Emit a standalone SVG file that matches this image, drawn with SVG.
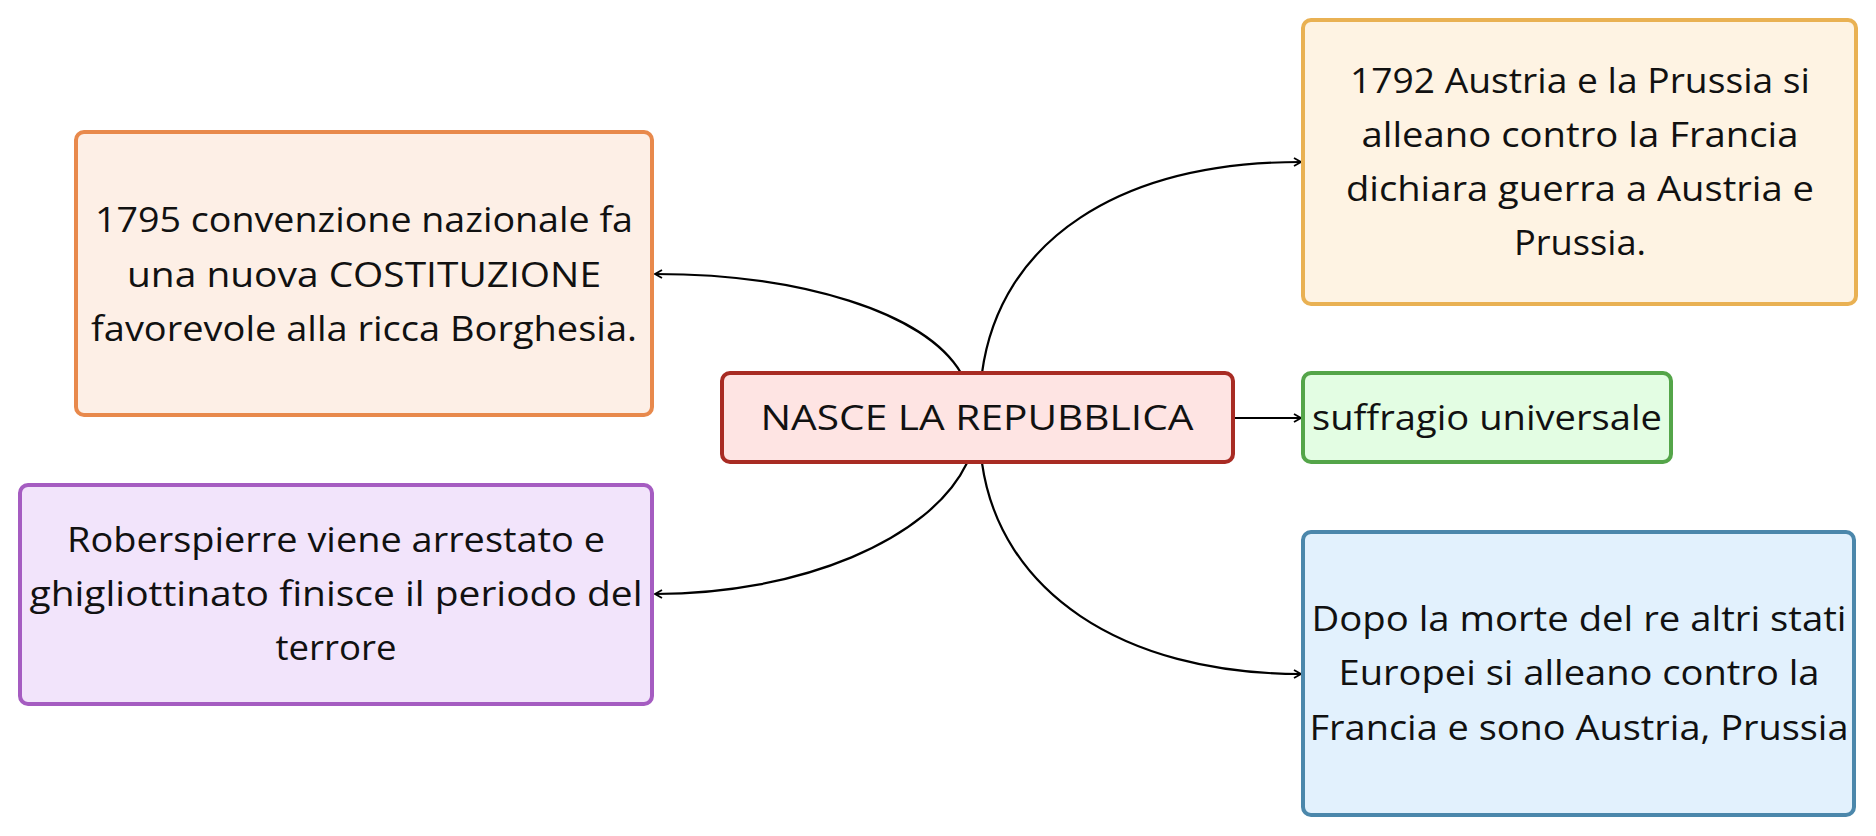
<svg xmlns="http://www.w3.org/2000/svg" width="1876" height="836" viewBox="0 0 1876 836">
<defs>
<style>
.box{stroke-width:4}
.t{font-family:"Open Sans","Liberation Sans",sans-serif;font-size:34px;fill:#111;text-anchor:middle}
.c{fill:none;stroke:#000;stroke-width:2.2}
</style>
<marker id="ah" markerWidth="10" markerHeight="10" refX="8" refY="5" orient="auto" markerUnits="userSpaceOnUse">
<path d="M1,1 L8,5 L1,9" fill="none" stroke="#000" stroke-width="1.8"/>
</marker>
</defs>
<rect width="1876" height="836" fill="#fff"/>
<g id="connectors">
<path class="c" d="M961,373 C925,312 800,274 655,274" marker-end="url(#ah)"/>
<path class="c" d="M982,373 C1000,240 1120,162 1301,162" marker-end="url(#ah)"/>
<path class="c" d="M967,463 C930,540 800,594 655,594" marker-end="url(#ah)"/>
<path class="c" d="M982,463 C1000,590 1120,674 1301,674" marker-end="url(#ah)"/>
<path class="c" d="M1234,418 L1301,418" marker-end="url(#ah)"/>
</g>
<g id="n-orange">
<rect class="box" x="76" y="132" width="576" height="283" rx="8" fill="#fdefe6" stroke="#e8894c"/>
<text class="t" x="364" y="232" textLength="538" lengthAdjust="spacingAndGlyphs">1795 convenzione nazionale fa</text>
<text class="t" x="364" y="287" textLength="474" lengthAdjust="spacingAndGlyphs">una nuova COSTITUZIONE</text>
<text class="t" x="364" y="341" textLength="546" lengthAdjust="spacingAndGlyphs">favorevole alla ricca Borghesia.</text>
</g>
<g id="n-yellow">
<rect class="box" x="1303" y="20" width="553" height="284" rx="8" fill="#fef3e3" stroke="#e9b153"/>
<text class="t" x="1580" y="93" textLength="460" lengthAdjust="spacingAndGlyphs">1792 Austria e la Prussia si</text>
<text class="t" x="1580" y="147" textLength="437" lengthAdjust="spacingAndGlyphs">alleano contro la Francia</text>
<text class="t" x="1580" y="201" textLength="468" lengthAdjust="spacingAndGlyphs">dichiara guerra a Austria e</text>
<text class="t" x="1580" y="255" textLength="132" lengthAdjust="spacingAndGlyphs">Prussia.</text>
</g>
<g id="n-center">
<rect class="box" x="722" y="373" width="511" height="89" rx="8" fill="#fee4e3" stroke="#a82b23"/>
<text class="t" x="977" y="430" textLength="433" lengthAdjust="spacingAndGlyphs">NASCE LA REPUBBLICA</text>
</g>
<g id="n-green">
<rect class="box" x="1303" y="373" width="368" height="89" rx="8" fill="#e3fde3" stroke="#54a549"/>
<text class="t" x="1487" y="430" textLength="350" lengthAdjust="spacingAndGlyphs">suffragio universale</text>
</g>
<g id="n-purple">
<rect class="box" x="20" y="485" width="632" height="219" rx="8" fill="#f2e4fb" stroke="#a55cc1"/>
<text class="t" x="336" y="552" textLength="538" lengthAdjust="spacingAndGlyphs">Roberspierre viene arrestato e</text>
<text class="t" x="336" y="606" textLength="613" lengthAdjust="spacingAndGlyphs">ghigliottinato finisce il periodo del</text>
<text class="t" x="336" y="660" textLength="121" lengthAdjust="spacingAndGlyphs">terrore</text>
</g>
<g id="n-blue">
<rect class="box" x="1303" y="532" width="551" height="283" rx="8" fill="#e2f1fd" stroke="#4b87ab"/>
<text class="t" x="1579" y="631" textLength="535" lengthAdjust="spacingAndGlyphs">Dopo la morte del re altri stati</text>
<text class="t" x="1579" y="685" textLength="481" lengthAdjust="spacingAndGlyphs">Europei si alleano contro la</text>
<text class="t" x="1579" y="740" textLength="539" lengthAdjust="spacingAndGlyphs">Francia e sono Austria, Prussia</text>
</g>
</svg>
